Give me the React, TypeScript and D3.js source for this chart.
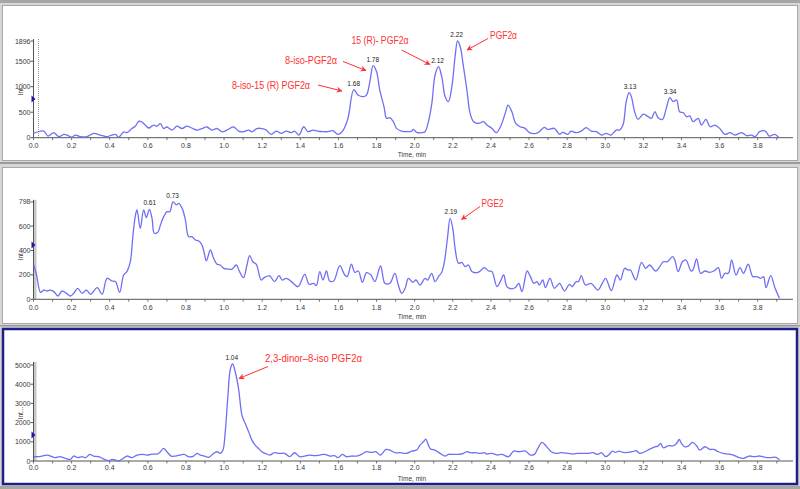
import React from "react";
import * as d3 from "d3";

// ---------- DATA ----------
const p1Times = [0.0,0.054,0.076,0.106,0.133,0.16,0.176,0.2,0.22,0.246,0.28,0.316,0.35,0.385,0.41,0.43,0.447,0.473,0.49,0.516,0.534,0.552,0.569,0.587,0.604,0.63,0.648,0.665,0.683,0.7,0.727,0.753,0.779,0.805,0.83,0.857,0.884,0.91,0.936,0.963,0.99,1.015,1.05,1.076,1.1,1.13,1.146,1.172,1.198,1.221,1.247,1.274,1.3,1.326,1.353,1.37,1.393,1.418,1.44,1.467,1.49,1.52,1.546,1.57,1.598,1.625,1.65,1.68,1.703,1.73,1.747,1.765,1.782,1.8,1.817,1.839,1.853,1.87,1.888,1.905,1.93,1.958,1.984,1.993,2.01,2.037,2.054,2.07,2.09,2.107,2.125,2.142,2.16,2.177,2.195,2.212,2.225,2.239,2.256,2.274,2.291,2.309,2.335,2.361,2.379,2.405,2.428,2.45,2.475,2.49,2.51,2.53,2.553,2.58,2.602,2.637,2.654,2.68,2.698,2.733,2.76,2.777,2.804,2.82,2.847,2.874,2.9,2.926,2.953,2.98,3.005,3.03,3.058,3.075,3.093,3.11,3.125,3.137,3.154,3.172,3.2,3.225,3.242,3.26,3.277,3.3,3.32,3.339,3.356,3.374,3.39,3.41,3.426,3.444,3.46,3.488,3.505,3.528,3.55,3.575,3.6,3.628,3.654,3.68,3.716,3.742,3.768,3.786,3.81,3.84,3.86,3.89,3.91];
const p1Values = [86,131,33,98,20,65,52,10,52,20,20,85,52,20,52,65,10,115,98,180,225,320,308,245,190,245,225,275,180,210,150,225,180,225,190,150,180,210,150,180,115,150,210,130,115,150,115,180,180,150,65,130,85,130,98,130,52,215,118,150,130,118,118,137,65,150,380,940,836,804,836,1098,1412,1294,935,608,379,392,314,183,130,118,130,163,105,98,118,281,673,1229,1392,1196,804,706,1000,1588,1896,1784,1392,935,477,314,281,314,248,183,98,215,477,640,510,281,215,183,98,85,118,203,163,183,65,105,65,130,98,130,196,130,118,52,85,52,150,150,248,706,882,804,510,360,464,412,379,510,392,360,575,784,706,739,510,490,412,425,314,379,248,360,215,248,183,65,98,52,98,39,52,20,118,130,33,65,6];

const p2Times = [0.002,0.016,0.037,0.054,0.072,0.089,0.107,0.128,0.15,0.173,0.194,0.211,0.232,0.255,0.278,0.3,0.334,0.36,0.386,0.412,0.43,0.452,0.473,0.49,0.508,0.522,0.535,0.543,0.56,0.578,0.592,0.608,0.622,0.634,0.652,0.666,0.683,0.7,0.715,0.732,0.75,0.762,0.78,0.797,0.814,0.832,0.849,0.867,0.884,0.896,0.907,0.928,0.945,0.963,0.98,0.998,1.019,1.041,1.064,1.081,1.102,1.12,1.134,1.151,1.169,1.195,1.212,1.239,1.265,1.288,1.305,1.326,1.353,1.388,1.423,1.446,1.47,1.484,1.502,1.519,1.537,1.554,1.575,1.607,1.633,1.646,1.668,1.686,1.704,1.726,1.747,1.77,1.791,1.821,1.844,1.87,1.896,1.914,1.932,1.95,1.967,1.99,2.007,2.028,2.054,2.068,2.089,2.107,2.125,2.142,2.156,2.172,2.186,2.2,2.212,2.23,2.247,2.265,2.282,2.3,2.326,2.344,2.365,2.388,2.405,2.432,2.449,2.467,2.484,2.51,2.528,2.546,2.563,2.59,2.607,2.625,2.642,2.654,2.672,2.686,2.71,2.733,2.76,2.786,2.812,2.826,2.847,2.86,2.874,2.896,2.926,2.961,2.984,3.002,3.032,3.061,3.079,3.102,3.12,3.132,3.16,3.19,3.212,3.233,3.265,3.286,3.304,3.325,3.353,3.365,3.382,3.405,3.423,3.45,3.46,3.479,3.5,3.523,3.546,3.57,3.593,3.61,3.628,3.646,3.663,3.686,3.707,3.725,3.75,3.774,3.795,3.816,3.83,3.844,3.868,3.891,3.914];
const p2Values = [281,199,57,76,68,76,63,27,68,49,27,49,90,49,76,41,96,41,172,150,145,57,199,227,308,527,690,732,581,732,669,737,663,541,549,609,677,718,718,798,773,786,745,650,513,513,486,478,445,377,314,404,336,287,281,254,248,246,281,227,177,281,358,308,287,158,180,191,145,194,158,172,145,104,205,123,131,112,227,158,232,150,150,276,199,186,287,221,232,139,218,199,145,273,131,131,213,117,49,90,172,139,158,117,172,158,213,145,186,221,308,500,663,581,418,295,303,268,281,227,218,232,259,232,227,104,145,199,104,85,96,131,63,232,186,131,145,117,158,96,172,90,131,68,123,104,145,145,194,117,131,76,131,172,71,199,158,254,240,240,158,303,254,281,232,268,308,308,349,322,227,308,322,232,240,330,213,232,221,232,259,172,213,213,322,199,259,213,287,186,186,172,186,96,194,90,8];

const p3Times = [0.002,0.028,0.045,0.072,0.098,0.115,0.138,0.168,0.194,0.211,0.232,0.255,0.273,0.295,0.316,0.342,0.369,0.395,0.412,0.43,0.447,0.465,0.491,0.517,0.543,0.57,0.596,0.622,0.648,0.666,0.683,0.7,0.722,0.744,0.77,0.791,0.814,0.84,0.858,0.875,0.896,0.919,0.945,0.963,0.98,0.994,1.006,1.019,1.033,1.045,1.059,1.076,1.094,1.111,1.129,1.146,1.163,1.181,1.198,1.216,1.239,1.265,1.291,1.318,1.344,1.37,1.396,1.423,1.449,1.475,1.502,1.528,1.554,1.58,1.598,1.621,1.642,1.668,1.695,1.72,1.747,1.774,1.796,1.821,1.849,1.87,1.896,1.923,1.958,1.984,2.01,2.028,2.046,2.058,2.072,2.084,2.107,2.133,2.16,2.177,2.204,2.23,2.256,2.274,2.291,2.318,2.344,2.365,2.379,2.405,2.432,2.458,2.493,2.519,2.546,2.58,2.607,2.628,2.646,2.668,2.69,2.716,2.742,2.768,2.804,2.83,2.856,2.882,2.909,2.935,2.961,2.98,3.002,3.023,3.037,3.054,3.072,3.093,3.119,3.142,3.163,3.18,3.207,3.233,3.26,3.277,3.29,3.304,3.33,3.356,3.374,3.388,3.4,3.418,3.435,3.458,3.479,3.496,3.523,3.55,3.57,3.593,3.619,3.646,3.672,3.698,3.725,3.756,3.78,3.812,3.839,3.865,3.896,3.914];
const p3Values = [224,224,259,310,224,172,224,138,86,259,172,224,172,345,259,224,103,17,86,52,0,103,259,172,310,345,310,362,362,483,655,483,259,259,310,345,224,259,397,310,259,190,397,483,397,569,1517,3241,4793,5052,4621,3759,2379,1948,1517,1086,828,655,483,397,310,431,397,397,224,431,224,259,310,276,310,345,259,276,172,345,224,259,259,345,483,448,483,310,603,569,431,431,397,517,569,828,1000,1138,828,621,569,397,259,345,345,345,397,483,431,431,397,431,362,397,310,345,224,517,483,517,310,345,655,966,776,483,397,431,397,362,397,397,397,431,345,431,224,362,517,448,517,448,448,483,534,397,483,621,741,776,914,690,793,793,914,1121,914,741,776,966,793,569,741,603,603,483,397,362,310,190,138,259,224,259,190,172,190,52];

const xTickValues = [0,0.2,0.4,0.6,0.8,1.0,1.2,1.4,1.6,1.8,2.0,2.2,2.4,2.6,2.8,3.0,3.2,3.4,3.6,3.8];
const p1YTicks = [0,500,1000,1500,1896];
const p2YTicks = [0,200,400,600,798];
const p3YTicks = [0,1000,2000,3000,4000,5000];

const p1PeakTimes = [1.68,1.78,2.12,2.22,3.13,3.34];
const p1PeakLabels = ["1.68","1.78","2.12","2.22","3.13","3.34"];
const p2PeakTimes = [0.61,0.73,2.19];
const p2PeakLabels = ["0.61","0.73","2.19"];
const p3PeakTimes = [1.04];
const p3PeakLabels = ["1.04"];

const p1Compounds = ["8-iso-15 (R) PGF2α","8-iso-PGF2α","15 (R)- PGF2α","PGF2α"];
const p2Compounds = ["PGE2"];
const p3Compounds = ["2,3-dinor\u20138-iso PGF2α"];

// ---------- LAYOUT ----------
const X0 = 33.5;
const X1 = 793;
const TMAX = 3.985;

type Ann = { text: string; x: number; y: number; w: number; ax1: number; ay1: number; ax2: number; ay2: number };

type PanelDef = {
  times: number[]; values: number[]; yTicks: number[]; yMax: number; yTop: number; yBase: number;
  peakTimes: number[]; peakLabels: string[]; peakDy: number[];
  anns: Ann[]; markerY: number; intY: number; timeY: number; tickLabelY: number;
  bandStyle: "dotted" | "band";
};

const panels: PanelDef[] = [
  {
    times: p1Times, values: p1Values, yTicks: p1YTicks, yMax: 1896, yTop: 41, yBase: 137.7,
    peakTimes: p1PeakTimes, peakLabels: p1PeakLabels, peakDy: [-4, -4, -4, -4, -4, -4],
    anns: [
      { text: p1Compounds[0], x: 232, y: 88.5, w: 78, ax1: 318, ay1: 85, ax2: 342, ay2: 91 },
      { text: p1Compounds[1], x: 285, y: 63.5, w: 52, ax1: 343, ay1: 61.5, ax2: 366, ay2: 70.5 },
      { text: p1Compounds[2], x: 351.5, y: 43.5, w: 57, ax1: 401.5, ay1: 50, ax2: 430, ay2: 64.5 },
      { text: p1Compounds[3], x: 490, y: 38.5, w: 27, ax1: 488, ay1: 38.5, ax2: 467, ay2: 50 },
    ],
    markerY: 99, intY: 89, timeY: 157, tickLabelY: 148, bandStyle: "dotted",
  },
  {
    times: p2Times, values: p2Values, yTicks: p2YTicks, yMax: 798, yTop: 201.9, yBase: 299.3,
    peakTimes: p2PeakTimes, peakLabels: p2PeakLabels, peakDy: [-4, -4, -4],
    anns: [
      { text: p2Compounds[0], x: 481.5, y: 206.5, w: 22, ax1: 480, ay1: 206.5, ax2: 461.5, ay2: 219.5 },
    ],
    markerY: 245, intY: 254, timeY: 318.5, tickLabelY: 309.5, bandStyle: "band",
  },
  {
    times: p3Times, values: p3Values, yTicks: p3YTicks, yMax: 5000, yTop: 365, yBase: 461,
    peakTimes: p3PeakTimes, peakLabels: p3PeakLabels, peakDy: [-4],
    anns: [
      { text: p3Compounds[0], x: 265, y: 361.5, w: 97, ax1: 268, ay1: 366.5, ax2: 239, ay2: 378.5 },
    ],
    markerY: 435, intY: 413, timeY: 480.5, tickLabelY: 470, bandStyle: "band",
  },
];

const LINE_COLOR = "#6f6ff5";
const TXT = "#3a3a3a";
const RED = "#ff3030";

function Panel({ p, idx }: { p: PanelDef; idx: number }) {
  const x = d3.scaleLinear().domain([0, TMAX]).range([X0, X1]);
  const y = d3.scaleLinear().domain([0, p.yMax]).range([p.yBase, p.yTop]);
  const pts = p.times.map((t, i) => [t, p.values[i]] as [number, number]);
  const line = d3.line<[number, number]>()
    .x((d) => x(d[0]))
    .y((d) => y(d[1]))
    .curve(d3.curveCatmullRom.alpha(0.5));
  const minor = d3.range(0, 3.95, 0.1);
  const axisTop = Math.min(p.yTop, y(d3.max(p.values) as number)) - 2;
  const markerId = `arrow${idx}`;
  return (
    <g>
      <defs>
        <marker id={markerId} viewBox="0 0 10 10" refX="9" refY="5" markerWidth="6" markerHeight="6" orient="auto-start-reverse">
          <path d="M0,0 L10,5 L0,10 L3,5 Z" fill={RED} />
        </marker>
      </defs>
      {/* y axis band */}
      {p.bandStyle === "dotted" ? (
        <line x1={38.5} x2={38.5} y1={axisTop} y2={p.yBase} stroke="#9a9a9a" strokeWidth={1} strokeDasharray="1,1" />
      ) : (
        <rect x={X0} y={axisTop} width={3} height={p.yBase - axisTop} fill="#c8c8c8" />
      )}
      {/* y axis */}
      <line x1={X0} x2={X0} y1={axisTop} y2={p.yBase} stroke="#555" strokeWidth={1} />
      {p.yTicks.map((v) => (
        <g key={v}>
          <line x1={X0 - 3} x2={X0} y1={y(v)} y2={y(v)} stroke="#555" />
          <text x={X0 - 3} y={y(v) + 2.5} fontSize={7} fill={TXT} textAnchor="end" fontFamily="Liberation Sans, Arial, sans-serif">{v}</text>
        </g>
      ))}
      {/* x axis */}
      <line x1={X0} x2={X1} y1={p.yBase} y2={p.yBase} stroke="#555" strokeWidth={1} />
      {minor.map((t) => (
        <line key={t} x1={x(t)} x2={x(t)} y1={p.yBase} y2={p.yBase + 2.5} stroke="#555" strokeWidth={0.8} />
      ))}
      {xTickValues.map((t) => (
        <text key={t} x={x(t)} y={p.tickLabelY} fontSize={7} fill={TXT} textAnchor="middle" fontFamily="Liberation Sans, Arial, sans-serif">{t.toFixed(1)}</text>
      ))}
      <text x={412} y={p.timeY} fontSize={6.5} fill={TXT} textAnchor="middle" fontFamily="Liberation Sans, Arial, sans-serif">Time, min</text>
      <text transform={`translate(22.5,${p.intY}) rotate(-90)`} fontSize={6.5} fill={TXT} textAnchor="middle" fontFamily="Liberation Sans, Arial, sans-serif">Int...</text>
      <path d={`M${X0 - 2},${p.markerY - 3.5} L${X0 + 2},${p.markerY} L${X0 - 2},${p.markerY + 3.5} Z`} fill="#1a1aa0" />
      {/* trace */}
      <path d={line(pts) || ""} fill="none" stroke={LINE_COLOR} strokeWidth={1.3} strokeLinejoin="round" />
      {/* peak labels */}
      {p.peakTimes.map((t, i) => {
        const j = d3.minIndex(p.times, (tt) => Math.abs(tt - t));
        return (
          <text key={i} x={x(t)} y={y(p.values[j]) + p.peakDy[i]} fontSize={6.5} fill="#222" textAnchor="middle" fontFamily="Liberation Sans, Arial, sans-serif">{p.peakLabels[i]}</text>
        );
      })}
      {/* annotations */}
      {p.anns.map((a, i) => (
        <g key={i}>
          <text x={a.x} y={a.y} fontSize={10} fill={RED} textLength={a.w} lengthAdjust="spacingAndGlyphs" fontFamily="Liberation Sans, Arial, sans-serif">{a.text}</text>
          <line x1={a.ax1} y1={a.ay1} x2={a.ax2} y2={a.ay2} stroke={RED} strokeWidth={1} markerEnd={`url(#${markerId})`} />
        </g>
      ))}
    </g>
  );
}

export default function App() {
  return (
    <svg width={800} height={489} style={{ position: "absolute", left: 0, top: 0, display: "block" }}>
      <rect x={0} y={0} width={800} height={489} fill="#d6d6d6" />
      <rect x={0} y={0} width={800} height={3} fill="#a6a6a6" />
      <rect x={2.5} y={5.5} width={795} height={155} fill="#ffffff" stroke="#a8a8a8" strokeWidth={1} />
      <rect x={0} y={162} width={800} height={2} fill="#9a9a9a" />
      <rect x={2.5} y={167.5} width={795} height={156} fill="#ffffff" stroke="#a8a8a8" strokeWidth={1} />
      <rect x={0} y={325} width={800} height={1.5} fill="#9a9a9a" />
      <rect x={3} y={329} width={794} height={155} fill="#ffffff" stroke="#1f1f8a" strokeWidth={2.5} />
      <rect x={0} y={486} width={800} height={3} fill="#a6a6a6" />
      {panels.map((p, i) => (
        <Panel key={i} p={p} idx={i} />
      ))}
    </svg>
  );
}
